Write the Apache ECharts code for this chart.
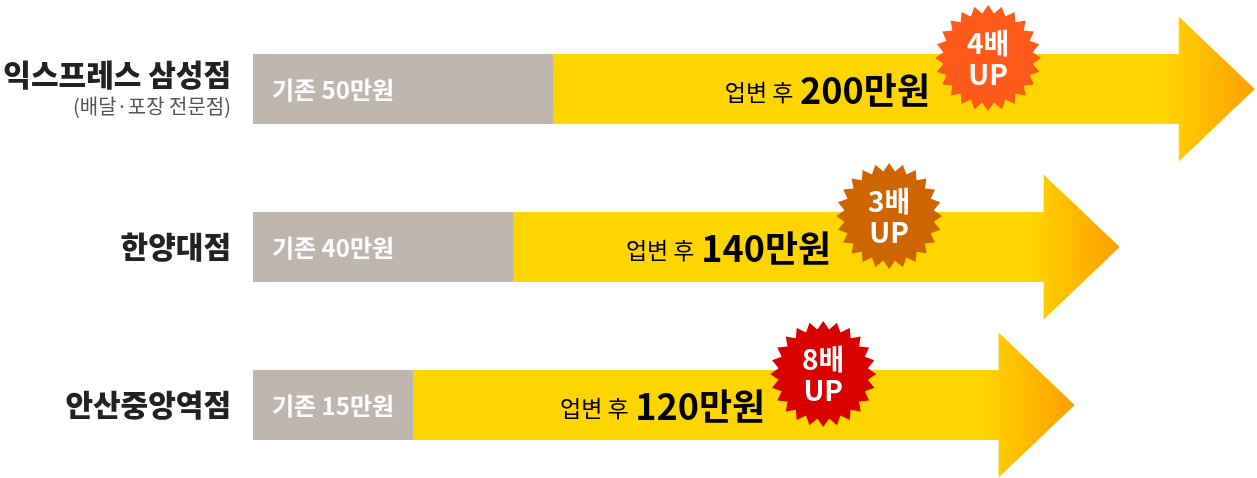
<!DOCTYPE html>
<html>
<head>
<meta charset="utf-8">
<script src="https://cdn.jsdelivr.net/npm/echarts@6/dist/echarts.min.js"></script>
<style>
  html, body { margin: 0; padding: 0; background: #fff; }
  #chart { width: 1257px; height: 478px; }
</style>
</head>
<body>
<div id="chart"></div>
<script>
// stores, top to bottom
var stores = ['익스프레스 삼성점', '한양대점', '안산중앙역점'];
var storeNotes = ['(배달·포장 전문점)', '', ''];
// monthly sales in 만원
var before = [50, 40, 15];
var after = [200, 140, 120];
var multiple = ['4배', '3배', '8배'];
var badgeColors = ['#FF5A1A', '#CF6500', '#D90000'];

var FONT = '"Noto Sans CJK KR", "Noto Sans", sans-serif';

var chart = echarts.init(document.getElementById('chart'));

function starPoints(cx, cy, r1, r2, n) {
  var pts = [];
  for (var i = 0; i < n * 2; i++) {
    var a = Math.PI * i / n - Math.PI / 2;
    var r = i % 2 === 0 ? r1 : r2;
    pts.push([cx + r * Math.cos(a), cy + r * Math.sin(a)]);
  }
  return pts;
}

var beforeData = before.map(function (v, i) { return [v, i]; });
var afterData = after.map(function (v, i) { return [v, i]; });

option = {
  animation: false,
  grid: { left: 253, right: 0, top: 10, height: 474, outerBoundsMode: 'none', containLabel: false },
  xAxis: [
    { type: 'value', min: -25, max: 226, show: false },
    { type: 'value', min: -245, max: 201, show: false }
  ],
  yAxis: {
    type: 'category',
    inverse: true,
    data: stores,
    axisLine: { show: false },
    axisTick: { show: false },
    splitLine: { show: false },
    axisLabel: {
      margin: 22,
      formatter: function (name, idx) {
        var s = '{n|' + name + '}';
        if (storeNotes[idx]) s += '\n{s|' + storeNotes[idx] + '}';
        return s;
      },
      rich: {
        n: { fontFamily: FONT, fontSize: 30, fontWeight: 900, color: '#222', lineHeight: 34, align: 'right' },
        s: { fontFamily: FONT, fontSize: 20, color: '#555', lineHeight: 28, align: 'right' }
      }
    }
  },
  series: [
    {
      // yellow arrows: "after" value sets where the tip lands
      type: 'custom',
      xAxisIndex: 1,
      z: 1,
      data: afterData,
      renderItem: function (params, api) {
        var i = api.value(1);
        var tip = api.coord([api.value(0), i]);
        var start = api.coord([-245, i]);
        var cy = tip[1];
        var tx = tip[0];
        var head = 76, halfBar = 35, halfHead = 72.5;
        var grayEnd = chart.convertToPixel({ xAxisIndex: 0 }, before[i]);
        var bx = grayEnd + 0.62 * (tx - grayEnd);
        var by = cy - 31;
        var fill = new echarts.graphic.LinearGradient(tx - 92, 0, tx, 0, [
          { offset: 0, color: '#FFD500' },
          { offset: 1, color: '#FF9F00' }
        ], true);
        return {
          type: 'group',
          children: [
            {
              type: 'polygon',
              shape: {
                points: [
                  [start[0], cy - halfBar],
                  [tx - head, cy - halfBar],
                  [tx - head, cy - halfHead],
                  [tx, cy],
                  [tx - head, cy + halfHead],
                  [tx - head, cy + halfBar],
                  [start[0], cy + halfBar]
                ]
              },
              style: { fill: fill }
            },
            {
              type: 'text',
              style: {
                x: bx - 58,
                y: cy + 1,
                align: 'right',
                verticalAlign: 'middle',
                text: '{a|업변 후}  {b|' + after[i] + '만원}',
                rich: {
                  a: { fontFamily: FONT, fontSize: 23, color: '#111', padding: [5, 0, 0, 0] },
                  b: { fontFamily: FONT, fontSize: 36, fontWeight: 'bold', color: '#111' }
                }
              }
            },
            {
              type: 'polygon',
              shape: { points: starPoints(bx, by, 53, 45, 24) },
              style: { fill: badgeColors[i] },
              z2: 5
            },
            {
              type: 'text',
              z2: 6,
              style: {
                x: bx,
                y: by + 1,
                align: 'center',
                verticalAlign: 'middle',
                text: multiple[i] + '\nUP',
                fontFamily: FONT,
                fontSize: 28,
                fontWeight: 'bold',
                lineHeight: 31,
                fill: '#fff'
              }
            }
          ]
        };
      }
    },
    {
      // grey bars: "before" value
      type: 'custom',
      xAxisIndex: 0,
      z: 2,
      data: beforeData,
      renderItem: function (params, api) {
        var i = api.value(1);
        var end = api.coord([api.value(0), i]);
        var start = api.coord([-25, i]);
        var cy = end[1];
        return {
          type: 'group',
          children: [
            {
              type: 'rect',
              shape: { x: start[0], y: cy - 35, width: end[0] - start[0], height: 70 },
              style: { fill: '#BEB7AF' }
            },
            {
              type: 'text',
              style: {
                x: start[0] + 19,
                y: cy + 1,
                verticalAlign: 'middle',
                text: '기존 ' + before[i] + '만원',
                fontFamily: FONT,
                fontSize: 24,
                fontWeight: 'bold',
                fill: '#fff'
              }
            }
          ]
        };
      }
    }
  ]
};

chart.setOption(option);
window.addEventListener('resize', function () {
  chart.resize();
});
</script>
</body>
</html>
